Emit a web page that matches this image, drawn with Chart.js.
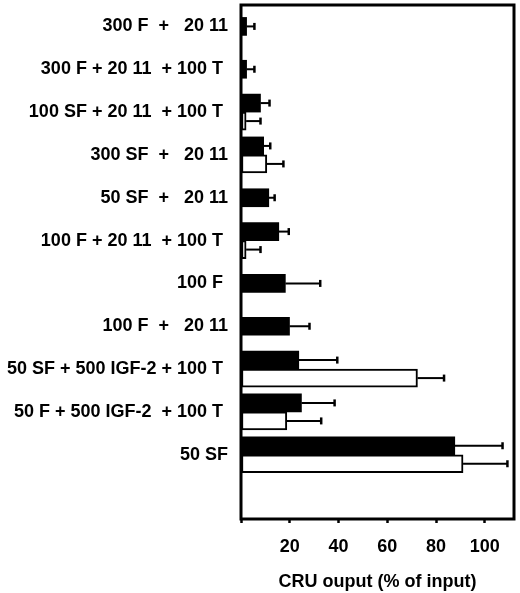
<!DOCTYPE html>
<html lang="en">
<head>
<meta charset="UTF-8">
<title>CRU output</title>
<script src="https://cdn.jsdelivr.net/npm/chart.js@4.4.0/dist/chart.umd.min.js"></script>
<style>
  html, body { margin: 0; padding: 0; background: #fff; }
  canvas { display: block; }
</style>
</head>
<body>
<canvas id="chart" width="520" height="593"></canvas>
<script>
// conditions, top to bottom (last one is the empty gap under the last pair)
const labels = [
    '300 F  +   20 11',
    '300 F + 20 11  + 100 T ',
    '100 SF + 20 11  + 100 T ',
    '300 SF  +   20 11',
    '50 SF  +   20 11',
    '100 F + 20 11  + 100 T ',
    '100 F ',
    '100 F  +   20 11',
    '50 SF + 500 IGF-2 + 100 T ',
    '50 F + 500 IGF-2  + 100 T ',
    '50 SF',
    ''
]
const blackValues = [2.3, 2.3, 8.0, 9.3, 11.4, 15.5, 18.2, 19.9, 23.7, 24.8, 87.7, null]
const blackErrors = [3.2, 3.2, 3.7, 2.7, 2.4, 4.1, 14.3, 8.2, 15.8, 13.6, 19.6, null]
const whiteValues = [null, null, 2.1, 10.6, null, 2.1, null, null, 72.4, 18.8, 91.1, null]
const whiteErrors = [null, null, 5.9, 6.8, null, 5.9, null, null, 10.9, 14.1, 18.2, null]
const xMax = 112
const xStep = 20
const axisTitle = 'CRU ouput (% of input)'

const font = { family: '"Liberation Sans", Arial, sans-serif', size: 18, weight: 'bold' }

const errorBars = {
    id: 'errorBars',
    afterDatasetsDraw(chart) {
        const ctx = chart.ctx
        const xs = chart.scales.x
        chart.data.datasets.forEach((ds, i) => {
            const meta = chart.getDatasetMeta(i)
            meta.data.forEach((bar, j) => {
                const v = ds.data[j], e = ds.errors[j]
                if (v == null || e == null) return
                const x0 = xs.getPixelForValue(v)
                const x1 = xs.getPixelForValue(v + e)
                ctx.save()
                ctx.strokeStyle = '#000'
                ctx.lineWidth = 2
                ctx.beginPath()
                ctx.moveTo(x0, bar.y)
                ctx.lineTo(x1, bar.y)
                ctx.stroke()
                ctx.lineWidth = 2.5
                ctx.beginPath()
                ctx.moveTo(x1, bar.y - 3.5)
                ctx.lineTo(x1, bar.y + 3.5)
                ctx.stroke()
                ctx.restore()
            })
        })
    }
}

const frame = {
    id: 'frame',
    afterDraw(chart) {
        const { left, top, right, bottom } = chart.chartArea
        const ctx = chart.ctx
        ctx.save()
        ctx.strokeStyle = '#000'
        ctx.lineWidth = 3
        ctx.strokeRect(left, top, right - left, bottom - top)
        ctx.restore()
    }
}

new Chart(document.getElementById('chart'), {
    type: 'bar',
    data: {
        labels: labels,
        datasets: [
            {
                data: blackValues,
                errors: blackErrors,
                backgroundColor: '#000',
                borderWidth: 0,
            },
            {
                data: whiteValues,
                errors: whiteErrors,
                backgroundColor: '#fff',
                borderColor: '#000',
                borderWidth: 2,
                borderSkipped: false,
            },
        ]
    },
    options: {
        indexAxis: 'y',
        responsive: false,
        animation: false,
        skipNull: true,
        barThickness: 18,
        layout: { padding: { top: 5, right: 6, left: 0, bottom: 0 } },
        plugins: { legend: { display: false }, tooltip: { enabled: false } },
        scales: {
            x: {
                min: 0,
                max: xMax,
                border: { display: false },
                grid: { drawOnChartArea: false, drawTicks: true, tickLength: 4, tickWidth: 2.5, tickColor: '#000' },
                ticks: {
                    stepSize: xStep,
                    includeBounds: false,
                    padding: 13,
                    color: '#000',
                    font: font,
                    callback: v => v === 0 ? '' : v,
                },
                title: { display: true, text: axisTitle, color: '#000', font: font, padding: { top: 0, bottom: 0 } },
                afterFit(scale) { scale.height = 74 },
            },
            y: {
                border: { display: false },
                grid: { display: false, drawTicks: false },
                ticks: { padding: 13, color: '#000', font: font, autoSkip: false },
                afterFit(scale) {
                    scale.width = 241
                    scale.paddingTop = 0
                    scale.paddingBottom = 0
                },
            },
        },
    },
    plugins: [errorBars, frame],
})
</script>
</body>
</html>
